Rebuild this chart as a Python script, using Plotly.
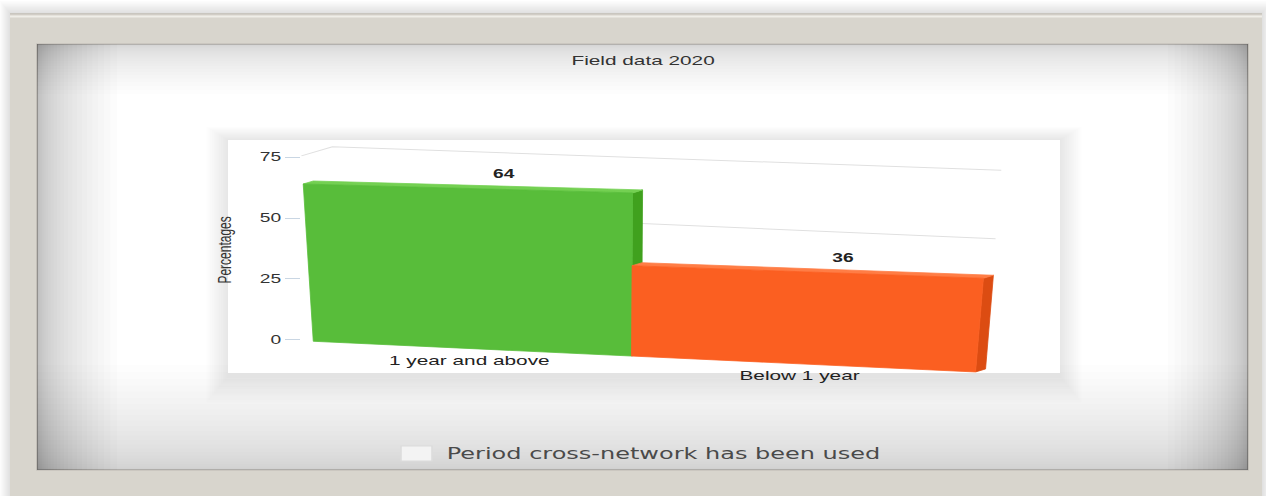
import numpy as np
import plotly.graph_objects as go

# ---- chart data -------------------------------------------------------------
categories = ["1 year and above", "Below 1 year"]
percentages = [64, 36]
y_ticks = [0, 25, 50, 75]
subtitle = "Field data 2020"
y_title = "Percentages"
legend_label = "Period cross-network has been used"

# ---- styling ----------------------------------------------------------------
front_colors = ["#58bd3a", "#fb5f21"]
top_colors = ["#74d052", "#ff7d45"]
side_colors = ["#40a11e", "#dc4c12"]
FONT = "Liberation Sans, Arial, sans-serif"

# The page is drawn narrow and widened horizontally with a CSS scaleX,
# which gives the wide lettering of the original export.
W_SCREEN, H = 1266, 496
STRETCH = 1.6
W_FIG = round(W_SCREEN / STRETCH)
S = W_SCREEN / W_FIG

# screen px  <->  axis units
X0, DX = 313.0, 330.0          # x axis: category units
Y0, K = 339.5, 2.43            # y axis: percent (px per unit)


def to_ax(xs, ys):
    return (xs - X0) / DX, (Y0 - ys) / K


def px(x):
    return x / W_SCREEN


def py(y):
    return 1 - y / H


# Perspective of the front plane: (category position, value) -> screen px,
# fitted by least squares to a few positions of the chart frame.
src = [(0, 0), (0, 64), (0, 75), (1, 0), (1, 64), (1, 36), (2, 0), (2, 36)]
dst = [(313, 339.5), (303, 185), (301, 157.5), (632, 357), (633, 191),
       (633, 265), (975, 374), (983, 277)]
A, b = [], []
for (u, v), (X, Y) in zip(src, dst):
    A.append([u, v, 1, 0, 0, 0, -X * u, -X * v]); b.append(X)
    A.append([0, 0, 0, u, v, 1, -Y * u, -Y * v]); b.append(Y)
h = np.linalg.lstsq(np.array(A, float), np.array(b, float), rcond=None)[0]


def proj(u, v):
    w = h[6] * u + h[7] * v + 1
    return (h[0] * u + h[1] * v + h[2]) / w, (h[3] * u + h[4] * v + h[5]) / w


DEPTH = (10, -3)        # bar depth in screen px
WALL_L = (31, -9)       # back wall offset at the left edge
WALL_R = (9, -2)        # back wall offset at the right edge

fig = go.Figure()


def poly(points, color, name=""):
    xs, ys = zip(*[to_ax(X, Y) for X, Y in points])
    fig.add_trace(go.Scatter(
        x=list(xs) + [xs[0]], y=list(ys) + [ys[0]], mode="lines",
        fill="toself", fillcolor=color, line=dict(color=color, width=0.6),
        hoverinfo="skip", showlegend=False, name=name))


# back-wall gridlines
for v in y_ticks[1:]:
    fx, fy = proj(0, v)
    rx, ry = proj(len(categories), v)
    pts = [(fx, fy), (fx + WALL_L[0], fy + WALL_L[1]),
           (rx + WALL_R[0], ry + WALL_R[1])]
    xs, ys = zip(*[to_ax(X, Y) for X, Y in pts])
    fig.add_trace(go.Scatter(x=xs, y=ys, mode="lines",
                             line=dict(color="#e0e0e0", width=1),
                             hoverinfo="skip", showlegend=False))

# 3D bars
for i, (cat, val) in enumerate(zip(categories, percentages)):
    bl, br = proj(i, 0), proj(i + 1, 0)
    tl, tr = proj(i, val), proj(i + 1, val)
    d = DEPTH
    poly([br, tr, (tr[0] + d[0], tr[1] + d[1]), (br[0] + d[0], br[1] + d[1])],
         side_colors[i])
    poly([tl, tr, (tr[0] + d[0], tr[1] + d[1]), (tl[0] + d[0], tl[1] + d[1])],
         top_colors[i])
    poly([bl, br, tr, tl], front_colors[i], cat)

annotations = []
for i, (cat, val) in enumerate(zip(categories, percentages)):
    ax_, ay_ = to_ax(*proj(i + 0.5, val))
    annotations.append(dict(x=ax_, y=ay_, text=str(val), showarrow=False,
                            xshift=40 / S, yshift=14,
                            font=dict(family=FONT, size=12, color="#222",
                                      weight="bold")))
    bx, by = to_ax(*proj(i + 0.5, 0))
    annotations.append(dict(x=bx, y=by, text=cat, showarrow=False, yshift=-12,
                            font=dict(family=FONT, size=13, color="#222")))

annotations += [
    dict(xref="paper", yref="paper", x=px(644), y=py(60), text=subtitle,
         xanchor="center", yanchor="middle", showarrow=False,
         font=dict(family=FONT, size=13, color="#333")),
    dict(xref="paper", yref="paper", x=px(225), y=py(250), text=y_title,
         xanchor="center", yanchor="middle", textangle=-90, showarrow=False,
         font=dict(family=FONT, size=12, color="#333")),
    dict(xref="paper", yref="paper", x=px(443), y=py(454), text=legend_label,
         xanchor="left", yanchor="middle", showarrow=False,
         font=dict(family="DejaVu Sans, Verdana, sans-serif", size=15,
                   color="#4a4a4a")),
]

# ---- frame, panel and shading ----------------------------------------------
shapes = []


def rect(x0, y0, x1, y1, fill, opacity=1.0, line=None):
    shapes.append(dict(type="rect", xref="paper", yref="paper", layer="below",
                       x0=px(x0), x1=px(x1), y0=py(y1), y1=py(y0),
                       fillcolor=fill, opacity=opacity,
                       line=line or dict(width=0)))


# outer drop shadow of the frame
for k in range(1, 11):
    rect(10 - k, 13 - k * 1.2, 1262 + k, 510, "#000000", 0.01)
rect(10, 13, 1262, 510, "#d8d5cd")
rect(10, 13, 1262, 14.5, "#c9c6bf")
rect(10, 15.5, 1262, 17.5, "#efeee8")

# inner white panel with vignette
P_L, P_T, P_R, P_B = 37, 44, 1248, 470
rect(P_L, P_T, P_R, P_B, "#ffffff", line=dict(color="#bdbab3", width=1))
N = 24
for i in range(N):
    f = ((i + 1) / N) ** 2
    rect(P_L, P_T, P_L + 80 * f, P_B, "#000000", 0.011)
    rect(P_R - 80 * f, P_T, P_R, P_B, "#000000", 0.012)
    rect(P_L, P_T, P_R, P_T + 50 * f, "#000000", 0.009)
for i in range(N):
    f = ((i + 1) / N) ** 1.6
    rect(P_L, P_B - 105 * f, P_R, P_B, "#000000", 0.009)

# plot box with soft shadow
B_L, B_T, B_R, B_B = 228, 140, 1060, 373
for k in range(1, 13):
    rect(B_L - 1.8 * k, B_T - 1.1 * k, B_R + 1.8 * k, B_B + 3 + 2.2 * k,
         "#000000", 0.009)
rect(B_L, B_T, B_R, B_B, "#ffffff")

# legend swatch
rect(401, 446, 432, 461, "#f3f3f3", line=dict(color="#dcdcdc", width=1))

x_lo, _ = to_ax(0, 0)
x_hi, _ = to_ax(W_SCREEN, 0)
y_lo, y_hi = (Y0 - H) / K, Y0 / K

fig.update_layout(
    width=W_FIG, height=H,
    margin=dict(l=0, r=0, t=0, b=0),
    paper_bgcolor="#ffffff", plot_bgcolor="rgba(0,0,0,0)",
    showlegend=False,
    xaxis=dict(range=[x_lo, x_hi], visible=False, fixedrange=True),
    yaxis=dict(range=[y_lo, y_hi], anchor="free", position=300 / W_SCREEN,
               tickvals=y_ticks, ticks="outside", ticklen=15 / S,
               tickcolor="#c9d6e3", tickwidth=1, showgrid=False,
               zeroline=False, showline=False, fixedrange=True,
               tickfont=dict(family=FONT, size=12, color="#333")),
    shapes=shapes, annotations=annotations,
)

STRETCH_JS = ("var gd=document.getElementById('{plot_id}');"
              "gd.style.transformOrigin='0 0';"
              "gd.style.transform='scaleX(%.5f)';" % S)

fig.write_html("out.html", post_script=STRETCH_JS,
               config=dict(displayModeBar=False))
